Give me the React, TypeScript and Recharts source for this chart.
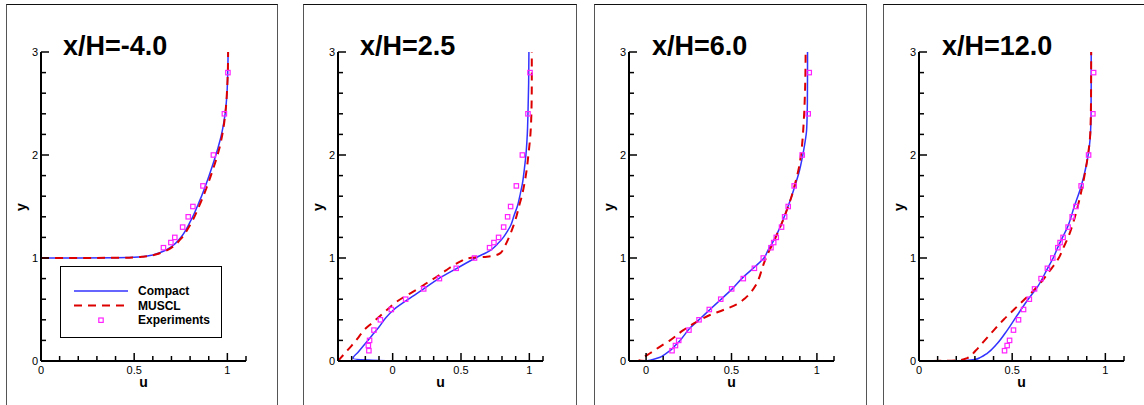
import React from 'react';
import { ComposedChart, Line, Scatter, XAxis, YAxis } from 'recharts';

const FONT = '"Liberation Sans", Arial, Helvetica, sans-serif';
const BLUE = '#3333ff';
const RED = '#dd0000';
const MAGENTA = '#ff22ff';

const titles = ['x/H=-4.0', 'x/H=2.5', 'x/H=6.0', 'x/H=12.0'];
const legendLabels = ['Compact', 'MUSCL', 'Experiments'];
const xLabel = 'u';
const yLabel = 'y';

const yTicks = [0, 0.2, 0.4, 0.6, 0.8, 1, 1.2, 1.4, 1.6, 1.8, 2, 2.2, 2.4, 2.6, 2.8, 3];
const xTicks1 = [0, 0.1, 0.2, 0.3, 0.4, 0.5, 0.6, 0.7, 0.8, 0.9, 1, 1.1];
const xTicks2 = [-0.4, -0.3, -0.2, -0.1, 0, 0.1, 0.2, 0.3, 0.4, 0.5, 0.6, 0.7, 0.8, 0.9, 1, 1.1];
const xTicks3 = [-0.1, 0, 0.1, 0.2, 0.3, 0.4, 0.5, 0.6, 0.7, 0.8, 0.9, 1, 1.1];
const xTicks4 = [0, 0.1, 0.2, 0.3, 0.4, 0.5, 0.6, 0.7, 0.8, 0.9, 1, 1.1];

// Experiment y positions
const expY = [0.1, 0.15, 0.2, 0.3, 0.4, 0.5, 0.6, 0.7, 0.8, 0.9, 1.0, 1.1, 1.15, 1.2, 1.3, 1.4, 1.5, 1.7, 2.0, 2.4, 2.8];
const exp1Y = [1.1, 1.15, 1.2, 1.3, 1.4, 1.5, 1.7, 2.0, 2.4, 2.8];
const exp1U = [0.657, 0.697, 0.718, 0.76, 0.79, 0.815, 0.869, 0.925, 0.984, 1.003];
const exp2U = [-0.174, -0.178, -0.169, -0.137, -0.09, -0.01, 0.095, 0.227, 0.342, 0.465, 0.599, 0.709, 0.741, 0.775, 0.812, 0.841, 0.863, 0.905, 0.949, 0.99, 1.005];
const exp3U = [0.152, 0.172, 0.191, 0.251, 0.31, 0.37, 0.437, 0.501, 0.569, 0.634, 0.686, 0.731, 0.747, 0.762, 0.793, 0.811, 0.832, 0.867, 0.914, 0.949, 0.955];
const exp4U = [0.459, 0.473, 0.486, 0.507, 0.534, 0.561, 0.592, 0.62, 0.655, 0.689, 0.718, 0.745, 0.757, 0.773, 0.8, 0.822, 0.842, 0.87, 0.91, 0.933, 0.937];

// Profiles as [u, y]
const compact1: [number, number][] = [[0, 1.0], [0.2, 1.0005], [0.4, 1.002], [0.5, 1.007], [0.55, 1.015], [0.6, 1.03], [0.65, 1.06], [0.7, 1.11], [0.75, 1.2], [0.8, 1.35], [0.85, 1.55], [0.9, 1.79], [0.926, 1.93], [0.95, 2.07], [0.971, 2.22], [0.988, 2.4], [0.998, 2.6], [1.002, 2.8], [1.004, 3.0]];
const muscl1: [number, number][] = [[0, 1.0], [0.2, 1.0005], [0.4, 1.002], [0.5, 1.006], [0.55, 1.013], [0.6, 1.027], [0.65, 1.055], [0.7, 1.1], [0.75, 1.185], [0.8, 1.32], [0.85, 1.51], [0.9, 1.74], [0.93, 1.9], [0.955, 2.05], [0.975, 2.22], [0.99, 2.42], [0.999, 2.65], [1.003, 2.85], [1.004, 3.0]];

const compact2: [number, number][] = [[0, 0], [-0.15, 0.008], [-0.29, 0.025], [-0.25, 0.09], [-0.2, 0.17], [-0.15, 0.25], [-0.1, 0.33], [-0.05, 0.42], [0.01, 0.5], [0.115, 0.6], [0.227, 0.7], [0.337, 0.8], [0.47, 0.9], [0.605, 1.0], [0.72, 1.08], [0.77, 1.14], [0.81, 1.2], [0.84, 1.26], [0.865, 1.32], [0.89, 1.42], [0.912, 1.5], [0.935, 1.63], [0.949, 1.72], [0.965, 1.88], [0.975, 2.0], [0.985, 2.2], [0.99, 2.4], [0.995, 2.7], [0.997, 3.0]];
const muscl2: [number, number][] = [[-0.4, 0.0], [-0.38, 0.03], [-0.34, 0.09], [-0.3, 0.15], [-0.25, 0.23], [-0.21, 0.3], [-0.15, 0.37], [-0.09, 0.44], [-0.03, 0.51], [0.03, 0.576], [0.1, 0.635], [0.18, 0.696], [0.25, 0.757], [0.325, 0.82], [0.39, 0.88], [0.447, 0.93], [0.5, 0.97], [0.545, 0.995], [0.6, 1.005], [0.69, 1.013], [0.75, 1.025], [0.79, 1.05], [0.814, 1.1], [0.851, 1.2], [0.88, 1.3], [0.905, 1.4], [0.924, 1.5], [0.945, 1.6], [0.961, 1.7], [0.98, 1.85], [0.993, 2.0], [1.008, 2.2], [1.015, 2.4], [1.018, 2.7], [1.018, 3.0]];

const compact3: [number, number][] = [[0, 0], [0.04, 0.015], [0.082, 0.036], [0.11, 0.065], [0.14, 0.1], [0.17, 0.15], [0.199, 0.2], [0.257, 0.32], [0.316, 0.41], [0.374, 0.5], [0.433, 0.59], [0.51, 0.71], [0.56, 0.8], [0.62, 0.89], [0.66, 0.95], [0.69, 1.0], [0.715, 1.08], [0.74, 1.15], [0.765, 1.23], [0.79, 1.32], [0.813, 1.42], [0.835, 1.52], [0.852, 1.6], [0.875, 1.72], [0.895, 1.83], [0.915, 1.98], [0.928, 2.1], [0.94, 2.25], [0.944, 2.5], [0.945, 2.8], [0.945, 3.0]];
const muscl3: [number, number][] = [[0, 0], [-0.04, 0.005], [-0.02, 0.03], [0.023, 0.075], [0.082, 0.14], [0.14, 0.2], [0.218, 0.3], [0.296, 0.38], [0.374, 0.447], [0.452, 0.495], [0.53, 0.55], [0.58, 0.61], [0.615, 0.67], [0.64, 0.73], [0.66, 0.8], [0.676, 0.88], [0.69, 0.95], [0.715, 1.05], [0.745, 1.15], [0.774, 1.26], [0.8, 1.36], [0.825, 1.47], [0.852, 1.6], [0.875, 1.74], [0.895, 1.88], [0.91, 2.05], [0.922, 2.3], [0.93, 2.6], [0.934, 3.0]];

const compact4: [number, number][] = [[0, 0], [0.15, 0.002], [0.25, 0.006], [0.3, 0.015], [0.33, 0.035], [0.366, 0.075], [0.42, 0.17], [0.474, 0.3], [0.528, 0.447], [0.582, 0.59], [0.636, 0.72], [0.69, 0.9], [0.72, 1.0], [0.744, 1.1], [0.77, 1.2], [0.797, 1.3], [0.833, 1.5], [0.869, 1.69], [0.9, 1.92], [0.914, 2.08], [0.923, 2.37], [0.924, 2.7], [0.924, 3.0]];
const muscl4: [number, number][] = [[0, 0], [0.15, 0.002], [0.22, 0.008], [0.258, 0.028], [0.303, 0.1], [0.348, 0.19], [0.402, 0.3], [0.456, 0.405], [0.51, 0.5], [0.564, 0.595], [0.618, 0.69], [0.66, 0.775], [0.695, 0.86], [0.72, 0.92], [0.75, 1.0], [0.775, 1.1], [0.8, 1.2], [0.82, 1.3], [0.84, 1.42], [0.86, 1.56], [0.887, 1.79], [0.905, 1.98], [0.919, 2.21], [0.923, 2.53], [0.924, 3.0]];

const toPts = (arr: [number, number][]) => arr.map(([u, y]) => ({ u, y }));
const zipExp = (us: number[], ys: number[]) => us.map((u, i) => ({ u, y: ys[i] }));

const PLOT_W = 205;
const PLOT_TOP = 52;

const panels = [
  { title: titles[0], plotLeft: 41, border: [6, 272], titleX: 63, domain: [0, 1.1], ticks: xTicks1, compact: compact1, muscl: muscl1, exp: zipExp(exp1U, exp1Y) },
  { title: titles[1], plotLeft: 338, border: [303, 274], titleX: 360, domain: [-0.4, 1.1], ticks: xTicks2, compact: compact2, muscl: muscl2, exp: zipExp(exp2U, expY) },
  { title: titles[2], plotLeft: 629, border: [594, 273], titleX: 652, domain: [-0.1, 1.1], ticks: xTicks3, compact: compact3, muscl: muscl3, exp: zipExp(exp3U, expY) },
  { title: titles[3], plotLeft: 919, border: [883, 300], titleX: 942, domain: [0, 1.1], ticks: xTicks4, compact: compact4, muscl: muscl4, exp: zipExp(exp4U, expY) },
];

const YTick = (props: any) => {
  const { x, y, payload } = props;
  const v = payload.value;
  const major = Math.abs(v - Math.round(v)) < 1e-6;
  return (
    <g>
      <line x1={x} y1={y} x2={x + (major ? 8 : 5)} y2={y} stroke="#000" strokeWidth={1.5} />
      {major && (
        <text x={x - 3} y={y + 4} textAnchor="end" fontSize={11} fontFamily={FONT} fill="#000">
          {String(Math.round(v))}
        </text>
      )}
    </g>
  );
};

const XTick = (props: any) => {
  const { x, y, payload } = props;
  const v = payload.value;
  const major = Math.abs(v * 2 - Math.round(v * 2)) < 1e-6;
  return (
    <g>
      <line x1={x} y1={y} x2={x} y2={y - (major ? 8 : 5)} stroke="#000" strokeWidth={1.5} />
      {major && (
        <text x={x} y={y + 12.5} textAnchor="middle" fontSize={11} fontFamily={FONT} fill="#000">
          {Math.abs(v) < 1e-9 ? '0' : String(Math.round(v * 10) / 10)}
        </text>
      )}
    </g>
  );
};

const Square = (props: any) => {
  const { cx, cy } = props;
  if (cx == null || cy == null) return null;
  return <rect x={cx - 2.2} y={cy - 2.2} width={4.4} height={4.4} fill="none" stroke={MAGENTA} strokeWidth={1.2} />;
};

function Panel({ p }: { p: (typeof panels)[number] }) {
  const chartLeft = p.plotLeft - 40;
  return (
    <div style={{ position: 'absolute', left: chartLeft, top: 0 }}>
      <ComposedChart width={40 + PLOT_W + 10} height={405} margin={{ top: PLOT_TOP, right: 10, bottom: 24, left: 0 }}>
        <XAxis
          type="number"
          dataKey="u"
          domain={p.domain as [number, number]}
          ticks={p.ticks}
          interval={0}
          allowDataOverflow
          height={20}
          tickSize={0}
          tickMargin={0}
          tickLine={false}
          axisLine={{ stroke: '#000', strokeWidth: 2 }}
          tick={<XTick />}
        />
        <YAxis
          type="number"
          dataKey="y"
          domain={[0, 3]}
          ticks={yTicks}
          interval={0}
          allowDataOverflow
          width={40}
          tickSize={0}
          tickMargin={0}
          tickLine={false}
          axisLine={{ stroke: '#000', strokeWidth: 2 }}
          tick={<YTick />}
        />
        <Line data={toPts(p.compact)} dataKey="y" type="monotoneY" stroke={BLUE} strokeWidth={1.5} dot={false} activeDot={false} isAnimationActive={false} />
        <Line data={toPts(p.muscl)} dataKey="y" type="monotoneY" stroke={RED} strokeWidth={2} strokeDasharray="8 6" dot={false} activeDot={false} isAnimationActive={false} />
        <Scatter data={p.exp} fill={MAGENTA} shape={<Square />} isAnimationActive={false} />
      </ComposedChart>
    </div>
  );
}

export default function App() {
  return (
    <div style={{ position: 'absolute', left: 0, top: 0, width: 1144, height: 405, background: '#fff', overflow: 'hidden' }}>
      {panels.map((p, i) => (
        <div
          key={'b' + i}
          style={{
            position: 'absolute',
            left: p.border[0],
            top: 4,
            width: p.border[1],
            height: 402,
            boxSizing: 'border-box',
            border: '1px solid #555',
            borderTopColor: '#111',
          }}
        />
      ))}
      {panels.map((p, i) => (
        <Panel key={'p' + i} p={p} />
      ))}
      <svg width={1144} height={405} style={{ position: 'absolute', left: 0, top: 0, pointerEvents: 'none' }}>
        {panels.map((p, i) => (
          <g key={'t' + i} fontFamily={FONT} fill="#000">
            <text x={p.titleX} y={55} fontSize={27} fontWeight="bold">{p.title}</text>
            <text x={p.plotLeft + PLOT_W / 2} y={387} fontSize={14} fontWeight="bold" textAnchor="middle">{xLabel}</text>
            <text transform={`translate(${p.plotLeft - 15.5},207) rotate(-90)`} fontSize={14} fontWeight="bold" textAnchor="middle">{yLabel}</text>
          </g>
        ))}
        <g fontFamily={FONT}>
          <rect x={60.5} y={266.5} width={161} height={71} fill="#fff" stroke="#000" strokeWidth={1} />
          <line x1={74} y1={291} x2={128} y2={291} stroke={BLUE} strokeWidth={1.5} />
          <line x1={74} y1={305.5} x2={128} y2={305.5} stroke={RED} strokeWidth={2} strokeDasharray="8 6" />
          <rect x={98.8} y={318} width={4.4} height={4.4} fill="none" stroke={MAGENTA} strokeWidth={1.2} />
          <text x={138} y={295} fontSize={12} fontWeight="bold">{legendLabels[0]}</text>
          <text x={138} y={309.5} fontSize={12} fontWeight="bold">{legendLabels[1]}</text>
          <text x={138} y={324} fontSize={12} fontWeight="bold">{legendLabels[2]}</text>
        </g>
      </svg>
    </div>
  );
}
